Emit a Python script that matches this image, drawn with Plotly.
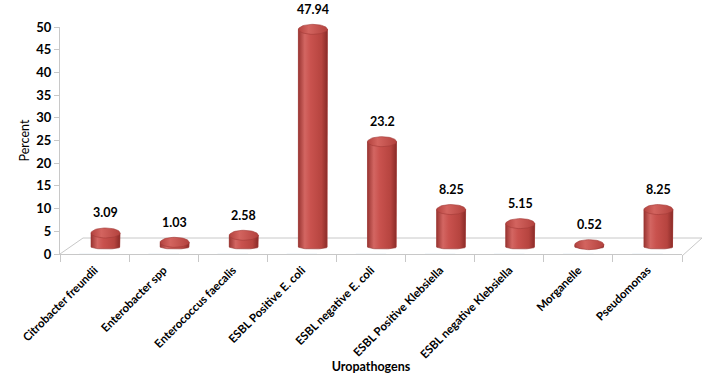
import numpy as np
import plotly.graph_objects as go

categories = ["Citrobacter freundii", "Enterobacter spp", "Enterococcus faecalis",
              "ESBL Positive E. coli", "ESBL negative E. coli", "ESBL Positive Klebsiella",
              "ESBL negative Klebsiella", "Morganelle", "Pseudomonas"]
values = [3.09, 1.03, 2.58, 47.94, 23.2, 8.25, 5.15, 0.52, 8.25]
value_labels = ["3.09", "1.03", "2.58", "47.94", "23.2", "8.25", "5.15", "0.52", "8.25"]
y_ticks = [0, 5, 10, 15, 20, 25, 30, 35, 40, 45, 50]

W, H = 709, 374
L, R, T, B = 60, 16, 20, 120
pw, ph = W - L - R, H - T - B          # 633 x 234
front_w, front_h = 622, 227            # front (axis) plane in px
depth_dx, depth_dy = 11, 7             # shift of the cylinders' mid-depth plane
scale = front_h / 50.0                 # px per unit
FONT = "Lato"

half_w = 0.21                          # cylinder half width (category units)
cap_e = 5.0 / scale                    # top ellipse semi-axis (data units)
bot_e = 2.0 / scale                    # bottom arc depth (data units)
y2_min = -depth_dy / scale
y2_max = y2_min + ph / scale

fig = go.Figure()

# invisible trace that sets up the visible category axis
fig.add_trace(go.Bar(x=categories, y=[0] * len(categories), showlegend=False,
                     hoverinfo="skip", marker=dict(color="rgba(0,0,0,0)"),
                     xaxis="x", yaxis="y"))

idx = list(range(len(categories)))
# cylinder bodies as bars on the depth-shifted axes
fig.add_trace(go.Bar(x=idx, y=values, width=2 * half_w, showlegend=False,
                     marker=dict(color="#C4504C", line=dict(width=0)),
                     customdata=categories, hovertemplate="%{customdata}: %{y}<extra></extra>",
                     xaxis="x2", yaxis="y2"))

body_scale = [[0, "#9A3532"], [0.22, "#D36662"], [0.42, "#C9524E"],
              [0.8, "#B6443F"], [1, "#8A2B28"]]
cap_scale = [[0, "#B3433F"], [0.35, "#D3645F"], [1, "#B3423E"]]

t_bot = np.linspace(0, np.pi, 25)
t_cap = np.linspace(0, 2 * np.pi, 49)
for i, v in zip(idx, values):
    # shaded body with curved bottom
    bx = [i - half_w, i - half_w, i + half_w, i + half_w] + list(i + half_w * np.cos(t_bot))
    by = [0, v, v, 0] + list(-bot_e * np.sin(t_bot))
    fig.add_trace(go.Scatter(x=bx, y=by, mode="lines", fill="toself",
                             line=dict(width=0.6, color="#963431"),
                             fillgradient=dict(type="horizontal", colorscale=body_scale),
                             hoverinfo="skip", showlegend=False, xaxis="x2", yaxis="y2"))
    # top ellipse
    cx = list(i + half_w * np.cos(t_cap))
    cy = list(v + cap_e * np.sin(t_cap))
    fig.add_trace(go.Scatter(x=cx, y=cy, mode="lines", fill="toself",
                             line=dict(width=0.6, color="#A33B38"),
                             fillgradient=dict(type="horizontal", colorscale=cap_scale),
                             hoverinfo="skip", showlegend=False, xaxis="x2", yaxis="y2"))

annotations = []
for i, v, t in zip(idx, values, value_labels):
    annotations.append(dict(x=i, y=v, xref="x2", yref="y2", text="<b>%s</b>" % t,
                            showarrow=False, yshift=20,
                            font=dict(family=FONT, size=12.5, color="#000")))

fig.update_layout(
    width=W, height=H,
    margin=dict(l=L, r=R, t=T, b=B),
    paper_bgcolor="white", plot_bgcolor="rgba(0,0,0,0)",
    bargap=0.56,
    xaxis=dict(domain=[0, front_w / pw], type="category", automargin=False,
               showline=True, linecolor="#C8C8C8", linewidth=1,
               ticks="outside", tickson="boundaries", ticklen=7, tickcolor="#C8C8C8",
               tickangle=-45, ticklabelstandoff=4,
               tickfont=dict(family=FONT, size=11.5, color="#000", weight="bold"),
               title=dict(text="<b>Uropathogens</b>", font=dict(family=FONT, size=12.5, color="#000"),
                          standoff=2),
               showgrid=False, zeroline=False),
    yaxis=dict(domain=[0, front_h / ph], range=[0, 50], tickvals=y_ticks, automargin=False,
               showline=True, linecolor="#C8C8C8", linewidth=1,
               ticks="outside", ticklen=5, tickcolor="#C8C8C8",
               tickfont=dict(family=FONT, size=13, color="#000", weight="bold"),
               title=dict(text="Percent", font=dict(family=FONT, size=12.5, color="#000"),
                          standoff=3),
               showgrid=False, zeroline=False),
    xaxis2=dict(domain=[depth_dx / pw, min(1.0, (front_w + depth_dx) / pw)],
                range=[-0.5, len(categories) - 0.5],
                anchor="y2", visible=False, showgrid=False, zeroline=False),
    yaxis2=dict(domain=[0, 1], range=[y2_min, y2_max],
                anchor="x2", visible=False, showgrid=False, zeroline=False),
    annotations=annotations,
)

# 3-D floor outline (paper coordinates)
def px(x):
    return (x - L) / pw
def py(y):
    return (H - B - y) / ph

floor = [((60, 254), (83, 238)), ((83, 238), (702, 238)), ((702, 238), (682, 256))]
for (x0, y0), (x1, y1) in floor:
    fig.add_shape(type="line", xref="paper", yref="paper",
                  x0=px(x0), y0=py(y0), x1=px(x1), y1=py(y1),
                  line=dict(color="#C8C8C8", width=1), layer="below")

fig.write_html("out.html", config={"displayModeBar": False},
               post_script="document.body.style.margin='0';")
